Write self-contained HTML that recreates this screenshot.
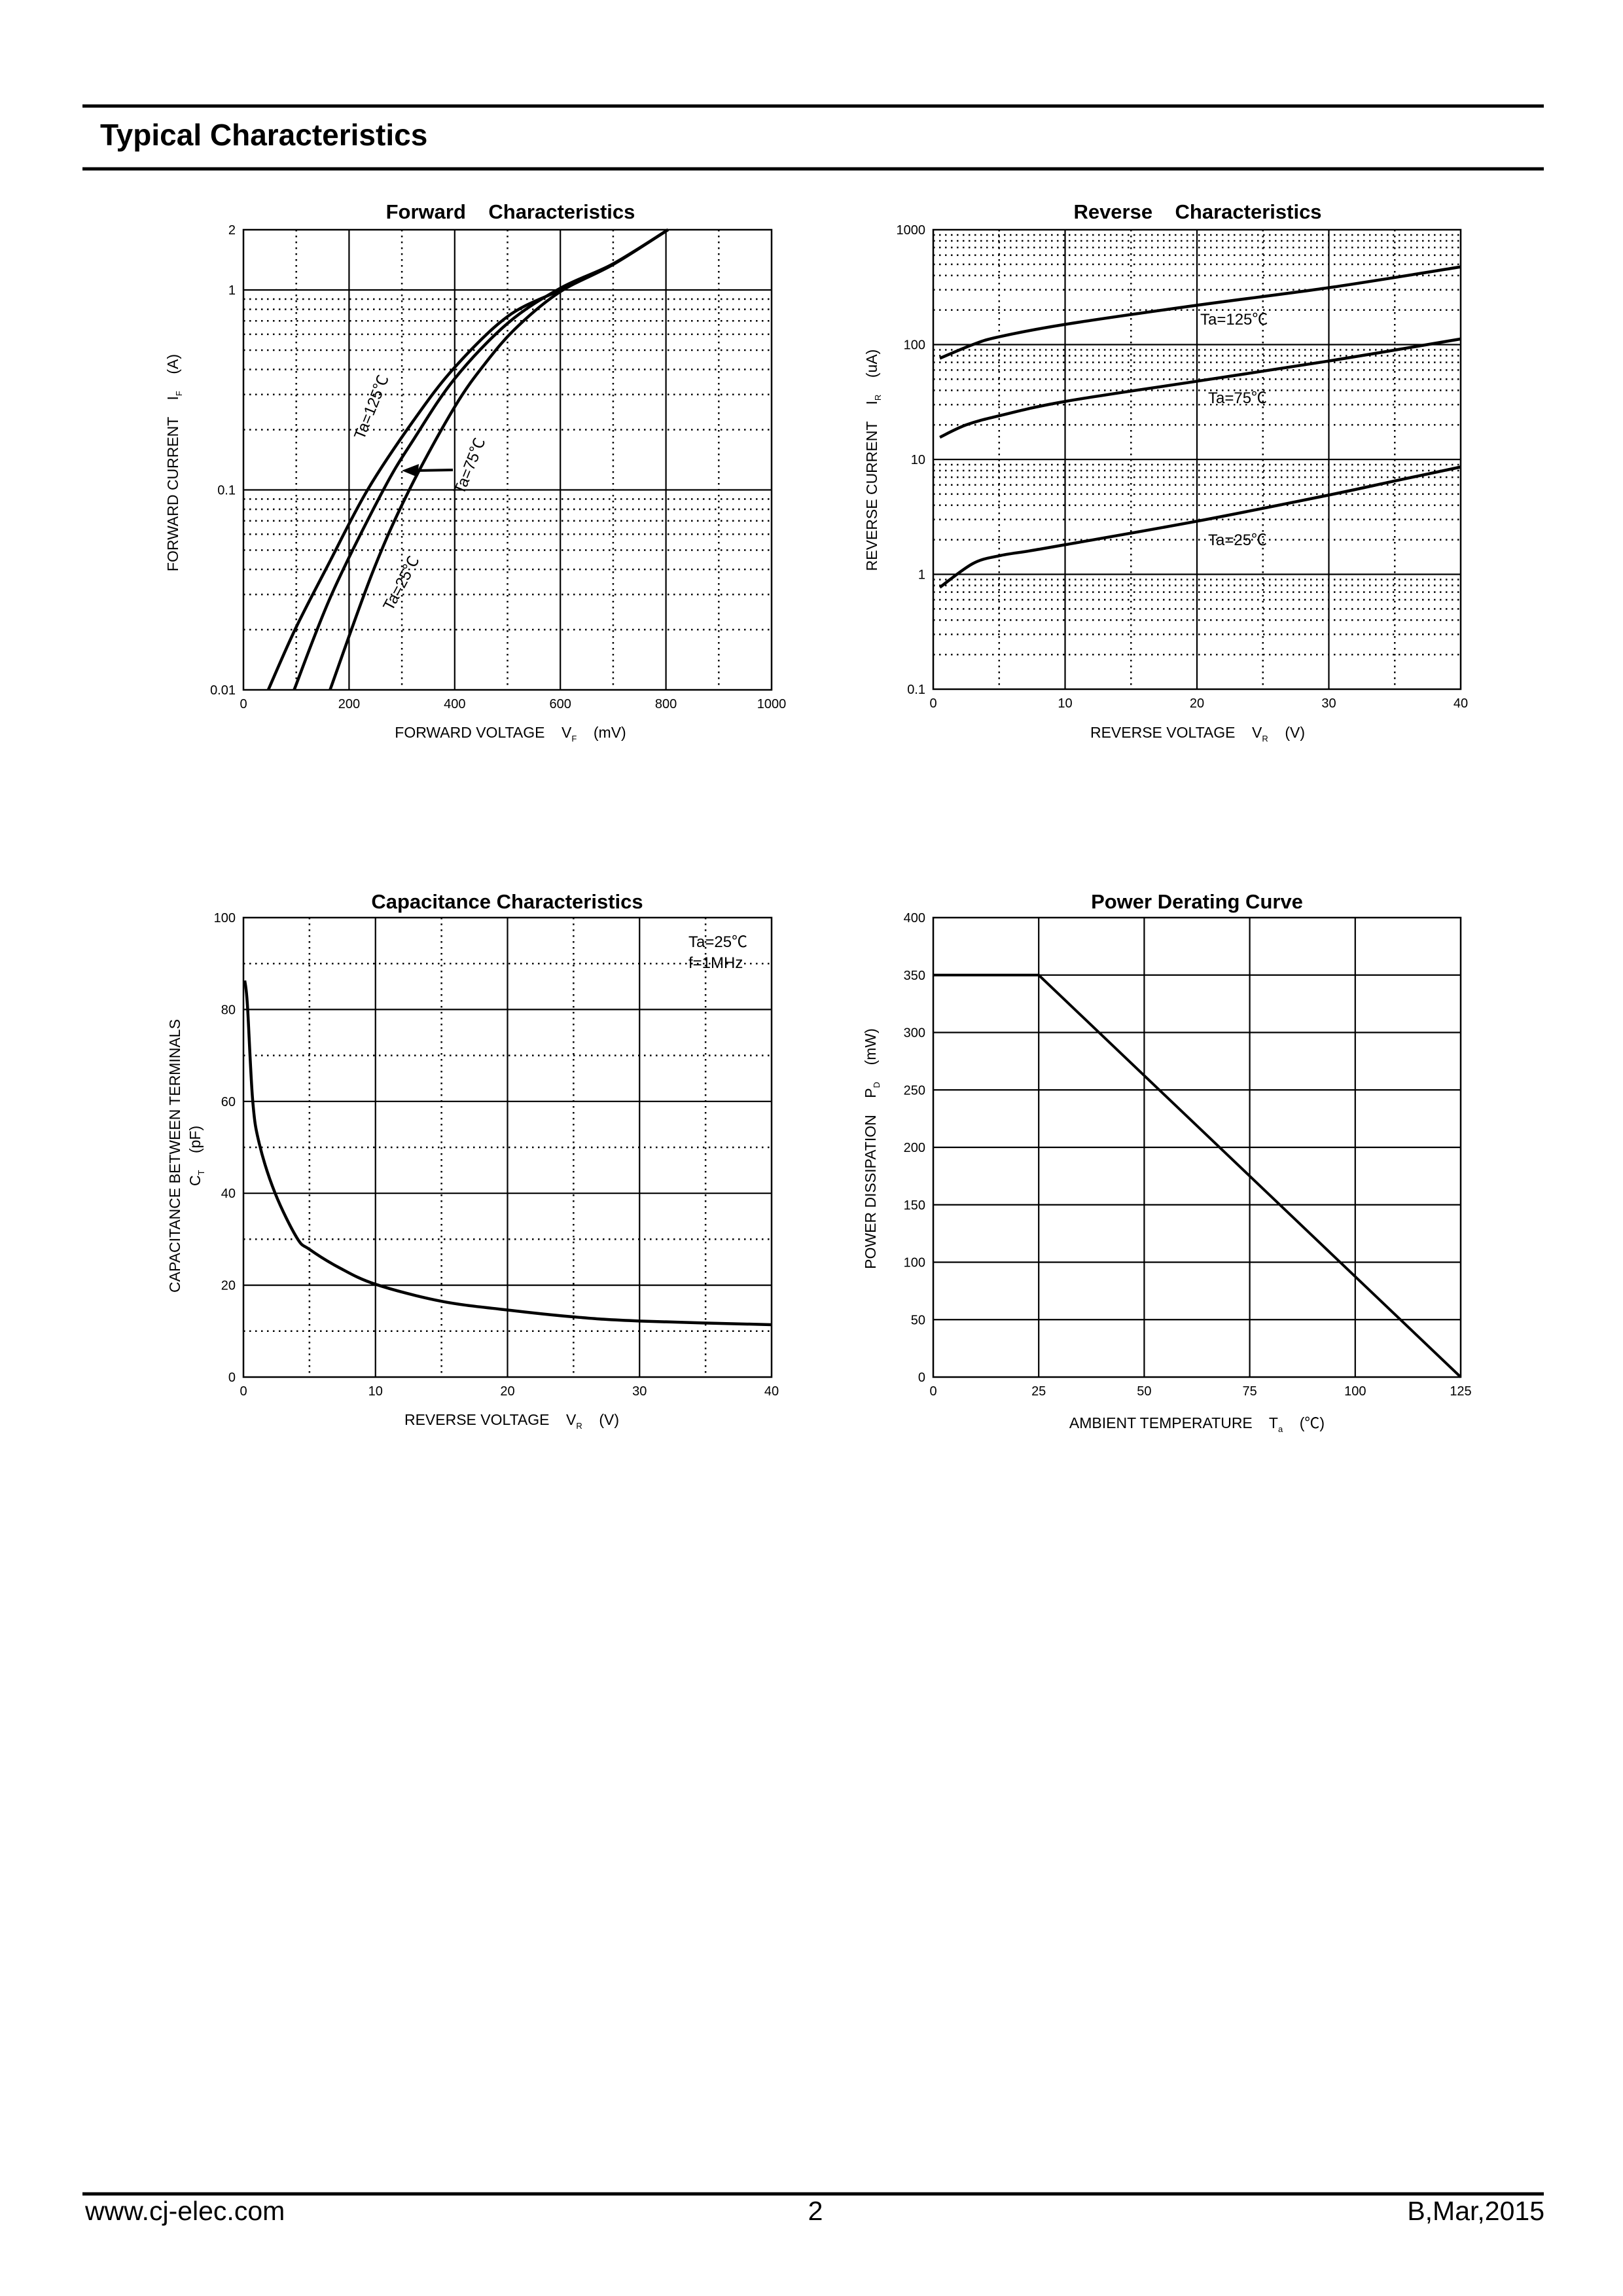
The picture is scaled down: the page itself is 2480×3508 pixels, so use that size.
<!DOCTYPE html>
<html><head><meta charset="utf-8"><style>
html,body{margin:0;padding:0;background:#fff;}
svg{display:block;font-family:"Liberation Sans","Noto Sans CJK SC",sans-serif;}
text{white-space:pre;}
</style></head><body>
<svg id="page" width="2480" height="3508" viewBox="0 0 2480 3508" xmlns="http://www.w3.org/2000/svg">
<rect x="0" y="0" width="2480" height="3508" fill="#fff"/>
<line x1="126" y1="162" x2="2359" y2="162" stroke="#000" stroke-width="5"/>
<text x="153" y="222" font-size="46" font-weight="bold">Typical Characteristics</text>
<line x1="126" y1="258" x2="2359" y2="258" stroke="#000" stroke-width="5"/>
<line x1="126" y1="3352" x2="2359" y2="3352" stroke="#000" stroke-width="5"/>
<text x="130" y="3392" font-size="41">www.cj-elec.com</text>
<text x="1246" y="3392" font-size="41" text-anchor="middle">2</text>
<text x="2360" y="3392" font-size="41" text-anchor="end">B,Mar,2015</text>
<g id="charts"></g>
</svg>
<script>
// Forward characteristics data
const fwdV125 = [47, 98, 160, 235, 323, 400, 500, 600, 700, 804];
const fwdI125 = [0.01, 0.0201, 0.042, 0.1, 0.224, 0.41, 0.736, 1.0, 1.35, 2.0];
const fwdV75 = [96, 167, 265, 323, 400, 500, 600, 700, 804];
const fwdI75 = [0.01, 0.03, 0.1, 0.18, 0.36, 0.68, 1.02, 1.35, 2.0];
const fwdV25 = [164, 245, 314, 400, 461, 520, 600, 700, 804];
const fwdI25 = [0.01, 0.039, 0.1, 0.26, 0.44, 0.66, 0.98, 1.34, 2.0];
const fwdXTicks = [0, 200, 400, 600, 800, 1000];
const fwdYTicks = [0.01, 0.1, 1, 2];
const fwdYTickLabels = ["0.01", "0.1", "1", "2"];
// Reverse characteristics data
const revV = [0.5, 3, 5, 10, 20, 30, 40];
const revI125 = [75.9, 100, 117, 150, 220, 313, 475];
const revV75 = [0.5, 2.5, 5, 10, 20, 30, 40];
const revI75 = [15.6, 20, 24, 32, 48, 72, 112];
const revV25 = [0.5, 3, 5, 7.3, 10, 20, 30, 35, 40];
const revI25 = [0.77, 1.24, 1.45, 1.6, 1.81, 2.9, 4.9, 6.5, 8.6];
const revXTicks = [0, 10, 20, 30, 40];
const revYTicks = [0.1, 1, 10, 100, 1000];
const revYTickLabels = ["0.1", "1", "10", "100", "1000"];
// Capacitance data
const capV = [0.1, 0.3, 0.7, 1.2, 2.4, 4.05, 5, 7.2, 10, 15, 20, 25, 30, 40];
const capC = [86.3, 81, 60.2, 50.8, 40, 30.3, 27.8, 23.9, 20.2, 16.5, 14.6, 13.1, 12.2, 11.4];
const capXTicks = [0, 10, 20, 30, 40];
const capYTicks = [0, 20, 40, 60, 80, 100];
// Power derating data
const pwrT = [0, 25, 125];
const pwrP = [350, 350, 0];
const pwrXTicks = [0, 25, 50, 75, 100, 125];
const pwrYTicks = [0, 50, 100, 150, 200, 250, 300, 350, 400];

const NS = "http://www.w3.org/2000/svg";
const root = document.getElementById('charts');
function mk(tag, attrs, parent) {
  const e = document.createElementNS(NS, tag);
  for (const k in attrs) e.setAttribute(k, attrs[k]);
  (parent || root).appendChild(e);
  return e;
}
function linScale(d0, d1, r0, r1) { return v => r0 + (v - d0) / (d1 - d0) * (r1 - r0); }
function logScale(d0, d1, r0, r1) { return v => r0 + (Math.log10(v) - Math.log10(d0)) / (Math.log10(d1) - Math.log10(d0)) * (r1 - r0); }
function gline(g, x1, y1, x2, y2, dotted) {
  const l = mk('line', {x1, y1, x2, y2, stroke: '#000', 'stroke-width': dotted ? 2.5 : 2.2}, g);
  if (dotted) l.setAttribute('stroke-dasharray', '2.5,6.5');
  
  
}
function txt(g, x, y, s, size, anchor, extra) {
  const t = mk('text', Object.assign({x, y, 'font-size': size, 'text-anchor': anchor || 'start'}, extra || {}), g);
  t.textContent = s;
  return t;
}
function curve(g, xs, ys, sx, sy, name) {
  const pts = xs.map((v, i) => [sx(v), sy(ys[i])]);
  let d = 'M' + pts[0][0] + ',' + pts[0][1];
  for (let i = 0; i < pts.length - 1; i++) {
    const p0 = pts[Math.max(0, i - 1)], p1 = pts[i], p2 = pts[i + 1], p3 = pts[Math.min(pts.length - 1, i + 2)];
    const c1 = [p1[0] + (p2[0] - p0[0]) / 6, p1[1] + (p2[1] - p0[1]) / 6];
    const c2 = [p2[0] - (p3[0] - p1[0]) / 6, p2[1] - (p3[1] - p1[1]) / 6];
    d += ' C' + c1 + ' ' + c2 + ' ' + p2;
  }
  const p = mk('path', {d, fill: 'none', stroke: '#000', 'stroke-width': 4.5, 'stroke-linejoin': 'round'}, g);
  
  
}
function frame(g, L, T, R, B) {
  const r = mk('rect', {x: L, y: T, width: R - L, height: B - T, fill: 'none', stroke: '#000', 'stroke-width': 2.5}, g);
  
  
}
function ylabel(g, x, y, parts) {
  const t = mk('text', {x, y, 'font-size': 23, 'text-anchor': 'middle', transform: 'rotate(-90 ' + x + ' ' + y + ')'}, g);
  
  
  t.innerHTML = parts;
}
function xlabel(g, x, y, parts) {
  const t = mk('text', {x, y, 'font-size': 23, 'text-anchor': 'middle'}, g);
  
  
  t.innerHTML = parts;
}
function title(g, x, y, s) {
  const t = txt(g, x, y, s, 31, 'middle', {'font-weight': 'bold'});
  
  
}
function xticks(g, ticks, sx, B, labels) {
  ticks.forEach((v, i) => {
    const t = txt(g, sx(v), B + 28, labels ? labels[i] : String(v), 20, 'middle');
    
    
  });
}
function yticks(g, ticks, sy, L, labels) {
  ticks.forEach((v, i) => {
    const t = txt(g, L - 12, sy(v) + 7, labels ? labels[i] : String(v), 20, 'end');
    
    
  });
}

// ---------- Forward chart ----------
(function () {
  const g = mk('g', {});
  
  
  const L = 372, R = 1179, T = 351, B = 1054;
  const sx = linScale(0, 1000, L, R), sy = logScale(0.01, 2, B, T);
  for (let v = 100; v < 1000; v += 100) gline(g, sx(v), T, sx(v), B, v % 200 !== 0);
  [0.01, 0.1].forEach(dec => { for (let k = 2; k <= 9; k++) gline(g, L, sy(dec * k), R, sy(dec * k), true); });
  gline(g, L, sy(0.1), R, sy(0.1), false);
  gline(g, L, sy(1), R, sy(1), false);
  frame(g, L, T, R, B);
  curve(g, fwdV125, fwdI125, sx, sy, 'curve-ta-125c');
  curve(g, fwdV75, fwdI75, sx, sy, 'curve-ta-75c');
  curve(g, fwdV25, fwdI25, sx, sy, 'curve-ta-25c');
  xticks(g, fwdXTicks, sx, B);
  yticks(g, fwdYTicks, sy, L, fwdYTickLabels);
  title(g, 780, 334, 'Forward    Characteristics');
  ylabel(g, 272, 707, 'FORWARD CURRENT    I<tspan font-size="13" dy="6">F</tspan><tspan dy="-6">    (A)</tspan>');
  xlabel(g, 780, 1127, 'FORWARD VOLTAGE    V<tspan font-size="13" dy="6">F</tspan><tspan dy="-6">    (mV)</tspan>');
  const lbl = [['Ta=125℃', 575, 625, -68], ['Ta=75℃', 725, 715, -68], ['Ta=25℃', 620, 895, -62]];
  lbl.forEach(a => {
    const t = txt(g, a[1], a[2], a[0], 24, 'middle', {transform: 'rotate(' + a[3] + ' ' + a[1] + ' ' + a[2] + ')'});
    
    
  });
  const ar = mk('line', {x1: 692, y1: 718, x2: 632, y2: 719, stroke: '#000', 'stroke-width': 4}, g);
  
  
  const ah = mk('polygon', {points: '614,719 640,709 638,729', fill: '#000'}, g);
  
  
})();

// ---------- Reverse chart ----------
(function () {
  const g = mk('g', {});
  
  
  const L = 1426, R = 2232, T = 351, B = 1053;
  const sx = linScale(0, 40, L, R), sy = logScale(0.1, 1000, B, T);
  for (let v = 5; v < 40; v += 5) gline(g, sx(v), T, sx(v), B, v % 10 !== 0);
  [0.1, 1, 10, 100].forEach(dec => { for (let k = 2; k <= 9; k++) gline(g, L, sy(dec * k), R, sy(dec * k), true); });
  [1, 10, 100].forEach(v => gline(g, L, sy(v), R, sy(v), false));
  frame(g, L, T, R, B);
  curve(g, revV, revI125, sx, sy, 'curve-ta-125c');
  curve(g, revV75, revI75, sx, sy, 'curve-ta-75c');
  curve(g, revV25, revI25, sx, sy, 'curve-ta-25c');
  xticks(g, revXTicks, sx, B);
  yticks(g, revYTicks, sy, L, revYTickLabels);
  title(g, 1830, 334, 'Reverse    Characteristics');
  ylabel(g, 1340, 703, 'REVERSE CURRENT    I<tspan font-size="13" dy="6">R</tspan><tspan dy="-6">    (uA)</tspan>');
  xlabel(g, 1830, 1127, 'REVERSE VOLTAGE    V<tspan font-size="13" dy="6">R</tspan><tspan dy="-6">    (V)</tspan>');
  [['Ta=125℃', 1834, 496], ['Ta=75℃', 1846, 616], ['Ta=25℃', 1846, 833]].forEach(a => {
    const t = txt(g, a[1], a[2], a[0], 24, 'start');
    
    
  });
})();

// ---------- Capacitance chart ----------
(function () {
  const g = mk('g', {});
  
  
  const L = 372, R = 1179, T = 1402, B = 2104;
  const sx = linScale(0, 40, L, R), sy = linScale(0, 100, B, T);
  for (let v = 5; v < 40; v += 5) gline(g, sx(v), T, sx(v), B, v % 10 !== 0);
  for (let v = 10; v < 100; v += 10) gline(g, L, sy(v), R, sy(v), v % 20 !== 0);
  frame(g, L, T, R, B);
  curve(g, capV, capC, sx, sy, 'capacitance-curve');
  xticks(g, capXTicks, sx, B);
  yticks(g, capYTicks, sy, L);
  title(g, 775, 1388, 'Capacitance Characteristics');
  ylabel(g, 275, 1766, 'CAPACITANCE BETWEEN TERMINALS');
  ylabel(g, 306, 1766, 'C<tspan font-size="13" dy="6">T</tspan><tspan dy="-6">    (pF)</tspan>');
  xlabel(g, 782, 2177, 'REVERSE VOLTAGE    V<tspan font-size="13" dy="6">R</tspan><tspan dy="-6">    (V)</tspan>');
  const a = txt(g, 1052, 1447, 'Ta=25℃', 24);  
  const b = txt(g, 1052, 1479, 'f=1MHz', 24);  
})();

// ---------- Power derating chart ----------
(function () {
  const g = mk('g', {});
  
  
  const L = 1426, R = 2232, T = 1402, B = 2104;
  const sx = linScale(0, 125, L, R), sy = linScale(0, 400, B, T);
  for (let v = 25; v < 125; v += 25) gline(g, sx(v), T, sx(v), B, false);
  for (let v = 50; v < 400; v += 50) gline(g, L, sy(v), R, sy(v), false);
  frame(g, L, T, R, B);
  const p = mk('polyline', {points: pwrT.map((t, i) => sx(t) + ',' + sy(pwrP[i])).join(' '), fill: 'none', stroke: '#000', 'stroke-width': 4}, g);
  
  
  xticks(g, pwrXTicks, sx, B);
  yticks(g, pwrYTicks, sy, L);
  title(g, 1829, 1388, 'Power Derating Curve');
  ylabel(g, 1338, 1755, 'POWER DISSIPATION    P<tspan font-size="13" dy="6">D</tspan><tspan dy="-6">    (mW)</tspan>');
  xlabel(g, 1829, 2182, 'AMBIENT TEMPERATURE    T<tspan font-size="13" dy="6">a</tspan><tspan dy="-6">    (℃)</tspan>');
})();
</script>
</body></html>
